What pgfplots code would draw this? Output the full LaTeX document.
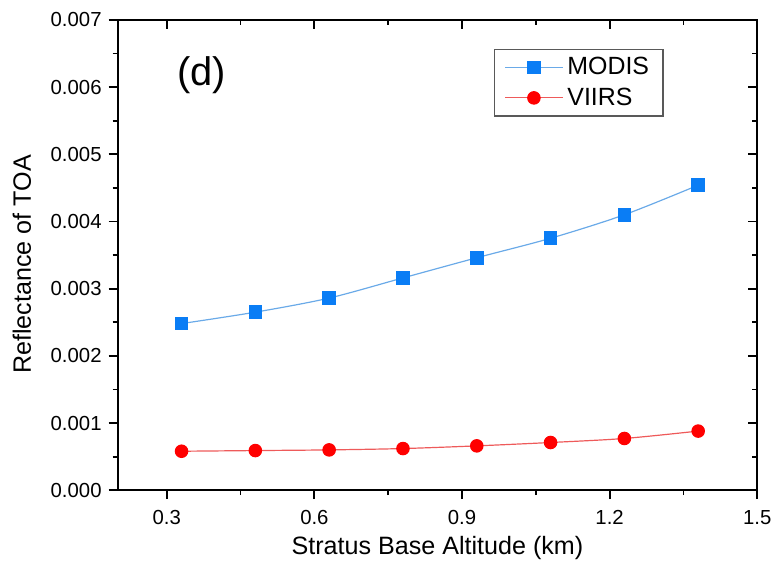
\documentclass[border=0pt]{standalone}
\usepackage{fontspec}
\setmainfont{Liberation Sans}
\usepackage{pgfplots}
\pgfplotsset{compat=1.18}
\definecolor{modisMark}{HTML}{0A7DF5}
\definecolor{modisLine}{HTML}{6AAAE8}
\definecolor{viirsMark}{HTML}{FF0000}
\definecolor{viirsLine}{HTML}{EE5A5A}

\pgfplotsset{
  common/.style={
    width=321pt, height=236pt, scale only axis,
    xmin=0.2, xmax=1.5, ymin=0, ymax=0.007,
    xtick={0.3,0.6,0.9,1.2,1.5},
    ytick={0,0.001,0.002,0.003,0.004,0.005,0.006,0.007},
    minor x tick num=1, minor y tick num=1,
    major tick length=4.5pt, minor tick length=2.5pt,
    every tick/.style={black, line width=0.9pt},
    scaled y ticks=false,
  },
}

\begin{document}
\begin{tikzpicture}
\begin{axis}[common,
    tick align=outside,
    xtick pos=bottom, ytick pos=left,
    axis line style={line width=1pt},
    /pgf/number format/assume math mode=true,
    tick label style={font=\fontsize{10.2}{12}\selectfont},
    xticklabel style={yshift=-2pt, /pgf/number format/.cd, fixed, fixed zerofill, precision=1},
    yticklabel style={/pgf/number format/.cd, fixed, fixed zerofill, precision=3},
    xlabel={Stratus Base Altitude (km)},
    ylabel={Reflectance of TOA},
    label style={font=\fontsize{12.6}{14}\selectfont},
    x label style={at={(axis description cs:0.5,-0.123)}, anchor=center},
    y label style={at={(axis description cs:-0.1495,0.48)}, anchor=center},
    legend style={at={(rel axis cs:0.8536,0.9386)}, anchor=north east,
      draw=black!65, line width=0.6pt,
      font=\fontsize{12.5}{14}\selectfont,
      inner xsep=5pt, inner ysep=2pt, row sep=1pt},
    legend cell align=left,
    legend image code/.code={
      \draw[mark repeat=2,mark phase=2,#1] plot coordinates {(0pt,0pt)(14.5pt,0pt)(29pt,0pt)};},
]
\addplot[smooth, color=modisLine, line width=0.6pt,
  mark=square*, mark size=3.1pt, mark options={draw=modisMark, fill=modisMark, solid}]
  coordinates {
  (0.33,0.00248) (0.48,0.00265) (0.63,0.00286) (0.78,0.00316)
  (0.93,0.00346) (1.08,0.00375) (1.23,0.00410) (1.38,0.00454)
};
\addlegendentry{MODIS}
\addplot[smooth, color=viirsLine, line width=0.6pt,
  mark=*, mark size=3.1pt, mark options={draw=viirsMark, fill=viirsMark, solid}]
  coordinates {
  (0.33,0.00058) (0.48,0.00059) (0.63,0.00060) (0.78,0.00062)
  (0.93,0.00066) (1.08,0.00071) (1.23,0.00077) (1.38,0.00088)
};
\addlegendentry{VIIRS}
\node[font=\fontsize{20}{22}\selectfont] at (rel axis cs:0.131,0.883) {(d)};
\end{axis}
\begin{axis}[common,
    tick align=inside,
    xtick pos=top, ytick pos=right,
    axis line style={draw=none},
    xticklabels={}, yticklabels={},
]
\end{axis}
\path ([xshift=-59pt,yshift=-42pt]current axis.south west)
  rectangle ([xshift=9pt,yshift=10pt]current axis.north east);
\end{tikzpicture}
\end{document}
